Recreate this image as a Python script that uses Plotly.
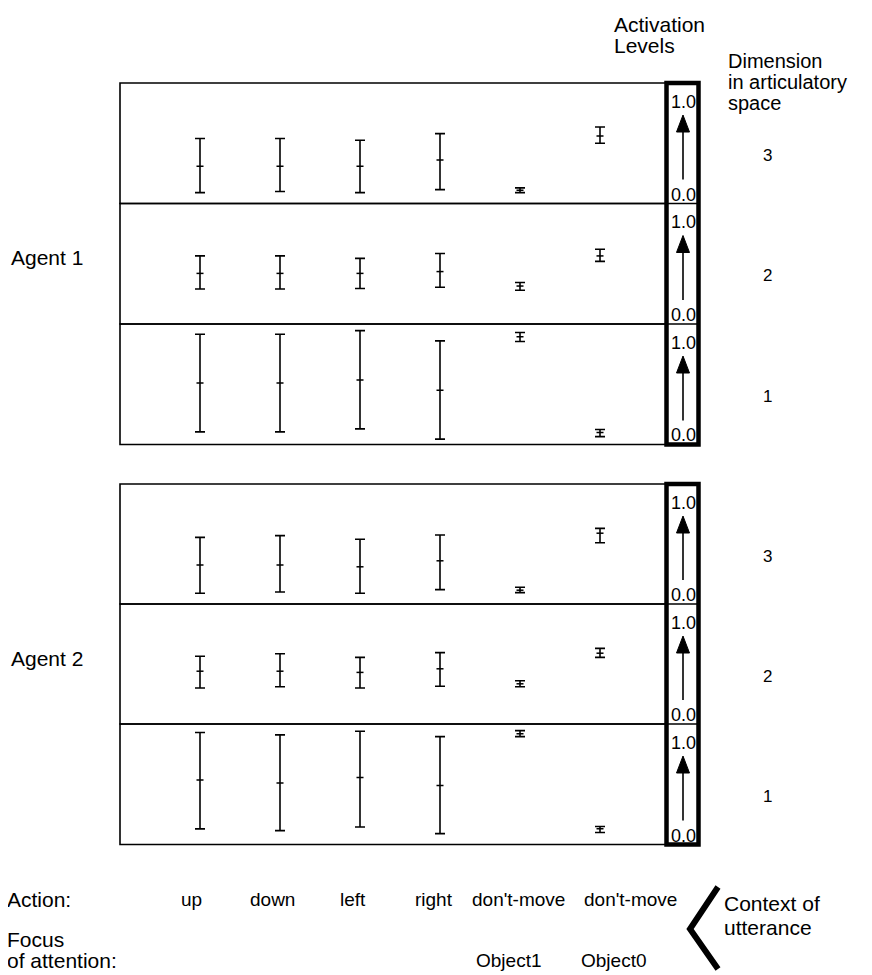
import plotly.graph_objects as go

# page is 872x975; the html body adds an 8px margin, so the figure is drawn 8px in
PAGE_W, PAGE_H = 872, 975
OFF = 8
W, H = PAGE_W - OFF, PAGE_H - OFF

# ---------------- data ----------------
categories = ["up", "down", "left", "right", "don't-move", "don't-move"]
focus = ["", "", "", "", "Object1", "Object0"]
cat_pos = [1, 2, 3, 4, 5, 6]
dims = ["3", "2", "1"]
agents = ["Agent 1", "Agent 2"]

a1_d3_mid = [0.31, 0.31, 0.31, 0.36, 0.11, 0.56]
a1_d3_lo = [0.09, 0.10, 0.09, 0.115, 0.09, 0.50]
a1_d3_hi = [0.54, 0.54, 0.525, 0.58, 0.13, 0.635]

a1_d2_mid = [0.42, 0.42, 0.42, 0.435, 0.315, 0.565]
a1_d2_lo = [0.29, 0.29, 0.295, 0.305, 0.28, 0.52]
a1_d2_hi = [0.565, 0.565, 0.545, 0.585, 0.345, 0.62]

a1_d1_mid = [0.51, 0.51, 0.535, 0.45, 0.895, 0.10]
a1_d1_lo = [0.105, 0.105, 0.13, 0.045, 0.855, 0.065]
a1_d1_hi = [0.915, 0.915, 0.945, 0.86, 0.93, 0.125]

a2_d3_mid = [0.325, 0.325, 0.31, 0.36, 0.115, 0.59]
a2_d3_lo = [0.09, 0.10, 0.09, 0.12, 0.095, 0.51]
a2_d3_hi = [0.555, 0.57, 0.54, 0.575, 0.14, 0.63]

a2_d2_mid = [0.44, 0.44, 0.43, 0.46, 0.335, 0.59]
a2_d2_lo = [0.30, 0.31, 0.30, 0.315, 0.31, 0.555]
a2_d2_hi = [0.565, 0.585, 0.555, 0.595, 0.36, 0.63]

a2_d1_mid = [0.535, 0.51, 0.555, 0.49, 0.92, 0.13]
a2_d1_lo = [0.13, 0.115, 0.145, 0.09, 0.895, 0.10]
a2_d1_hi = [0.93, 0.91, 0.94, 0.895, 0.945, 0.15]

# ---------------- layout geometry (page pixels) ----------------
FONT = "Liberation Sans, Arial, Helvetica, sans-serif"
X_LEFT, X_RIGHT = 120, 666
BOX_L, BOX_R = 666.5, 698.5
agent_bounds = [[83, 203.5, 324, 444.5], [484, 604, 724, 844.5]]


def px(x):
    return (x - OFF) / W


def py(y):
    return 1 - (y - OFF) / H


panels = [
    (0, 0, a1_d3_mid, a1_d3_lo, a1_d3_hi),
    (0, 1, a1_d2_mid, a1_d2_lo, a1_d2_hi),
    (0, 2, a1_d1_mid, a1_d1_lo, a1_d1_hi),
    (1, 0, a2_d3_mid, a2_d3_lo, a2_d3_hi),
    (1, 1, a2_d2_mid, a2_d2_lo, a2_d2_hi),
    (1, 2, a2_d1_mid, a2_d1_lo, a2_d1_hi),
]

fig = go.Figure()
layout = dict(
    width=W, height=H,
    margin=dict(l=0, r=0, t=0, b=0),
    paper_bgcolor="white", plot_bgcolor="white",
    showlegend=False,
    font=dict(family=FONT, size=21, color="black"),
    xaxis=dict(domain=[px(X_LEFT), px(X_RIGHT)], range=[0, (X_RIGHT - X_LEFT) / 80.0],
               visible=False, fixedrange=True),
)
shapes = []
annotations = []

for i, (ag, d, mid, lo, hi) in enumerate(panels):
    n = i + 1
    yname = "y" if n == 1 else f"y{n}"
    ykey = "yaxis" if n == 1 else f"yaxis{n}"
    top = agent_bounds[ag][d]
    bot = agent_bounds[ag][d + 1]
    layout[ykey] = dict(domain=[py(bot), py(top)], range=[0, 1], visible=False,
                        fixedrange=True, anchor="x")
    fig.add_trace(go.Scatter(
        x=cat_pos, y=mid, xaxis="x", yaxis=yname, mode="markers",
        marker=dict(symbol="line-ew", size=5, color="black",
                    line=dict(width=1.5, color="black")),
        error_y=dict(type="data", symmetric=False,
                     array=[h - m for h, m in zip(hi, mid)],
                     arrayminus=[m - l for m, l in zip(mid, lo)],
                     thickness=1.6, width=5, color="black"),
        hoverinfo="skip",
    ))
    # panel frame
    shapes.append(dict(type="rect", xref="x domain", yref=f"{yname} domain",
                       x0=0, x1=1, y0=0, y1=1, line=dict(color="black", width=1.6),
                       layer="above"))
    # box interior divider
    shapes.append(dict(type="line", xref="paper", yref="paper",
                       x0=px(BOX_L), x1=px(BOX_R), y0=py(bot), y1=py(bot),
                       line=dict(color="black", width=1.6)))
    # activation arrow
    ax = 683
    shapes.append(dict(type="line", xref="paper", yref="paper",
                       x0=px(ax), x1=px(ax), y0=py(bot - 24), y1=py(top + 46),
                       line=dict(color="black", width=1.6)))
    shapes.append(dict(type="path", xref="paper", yref="paper",
                       path=(f"M {px(ax)},{py(top + 32)} L {px(ax - 6.5)},{py(top + 49)} "
                             f"L {px(ax + 6.5)},{py(top + 49)} Z"),
                       fillcolor="black", line=dict(color="black", width=1)))
    annotations.append(dict(xref="paper", yref="paper", x=px(669), y=py(top + 19),
                            text="1.0", showarrow=False, xanchor="left", yanchor="middle",
                            font=dict(size=18)))
    annotations.append(dict(xref="paper", yref="paper", x=px(669), y=py(bot - 9),
                            text="0.0", showarrow=False, xanchor="left", yanchor="middle",
                            font=dict(size=18)))
    # dimension number
    annotations.append(dict(xref="paper", yref="paper", x=px(767), y=py((top + bot) / 2 + 12),
                            text=dims[d], showarrow=False, xanchor="center", yanchor="middle",
                            font=dict(size=17)))

# thick activation-level boxes
for ag in range(2):
    b = agent_bounds[ag]
    shapes.append(dict(type="rect", xref="paper", yref="paper",
                       x0=px(BOX_L), x1=px(BOX_R), y0=py(b[3]), y1=py(b[0]),
                       line=dict(color="black", width=4.5)))
    annotations.append(dict(xref="paper", yref="paper", x=px(9), y=py((b[0] + b[3]) / 2 - 6),
                            text=agents[ag], showarrow=False, xanchor="left", yanchor="middle"))

# headers
for txt, yy in [("Activation", 24), ("Levels", 45)]:
    annotations.append(dict(xref="paper", yref="paper", x=px(612), y=py(yy), text=txt,
                            showarrow=False, xanchor="left", yanchor="middle"))
for txt, yy in [("Dimension", 61), ("in articulatory", 82), ("space", 103)]:
    annotations.append(dict(xref="paper", yref="paper", x=px(726), y=py(yy), text=txt,
                            showarrow=False, xanchor="left", yanchor="middle",
                            font=dict(size=20)))

# bottom labels
label_x = [191, 272, 353, 434, 518, 630]
focus_x = [0, 0, 0, 0, 508, 613]
annotations.append(dict(xref="paper", yref="paper", x=px(5), y=py(899), text="Action:",
                        showarrow=False, xanchor="left", yanchor="middle"))
for c, lx in zip(categories, label_x):
    annotations.append(dict(xref="paper", yref="paper", x=px(lx), y=py(899), text=c,
                            showarrow=False, xanchor="center", yanchor="middle", font=dict(size=19)))
annotations.append(dict(xref="paper", yref="paper", x=px(5), y=py(939), text="Focus",
                        showarrow=False, xanchor="left", yanchor="middle"))
annotations.append(dict(xref="paper", yref="paper", x=px(5), y=py(960), text="of attention:",
                        showarrow=False, xanchor="left", yanchor="middle"))
for f, fx in zip(focus, focus_x):
    if f:
        annotations.append(dict(xref="paper", yref="paper", x=px(fx), y=py(960), text=f,
                                showarrow=False, xanchor="center", yanchor="middle",
                                font=dict(size=19)))
annotations.append(dict(xref="paper", yref="paper", x=px(722), y=py(903), text="Context of",
                        showarrow=False, xanchor="left", yanchor="middle"))
annotations.append(dict(xref="paper", yref="paper", x=px(722), y=py(927), text="utterance",
                        showarrow=False, xanchor="left", yanchor="middle"))
shapes.append(dict(type="path", xref="paper", yref="paper",
                   path=f"M {px(718)},{py(887)} L {px(690)},{py(929)} L {px(718)},{py(969)}",
                   line=dict(color="black", width=6)))

layout["shapes"] = shapes
layout["annotations"] = annotations
fig.update_layout(**layout)
fig.write_html("out.html")
